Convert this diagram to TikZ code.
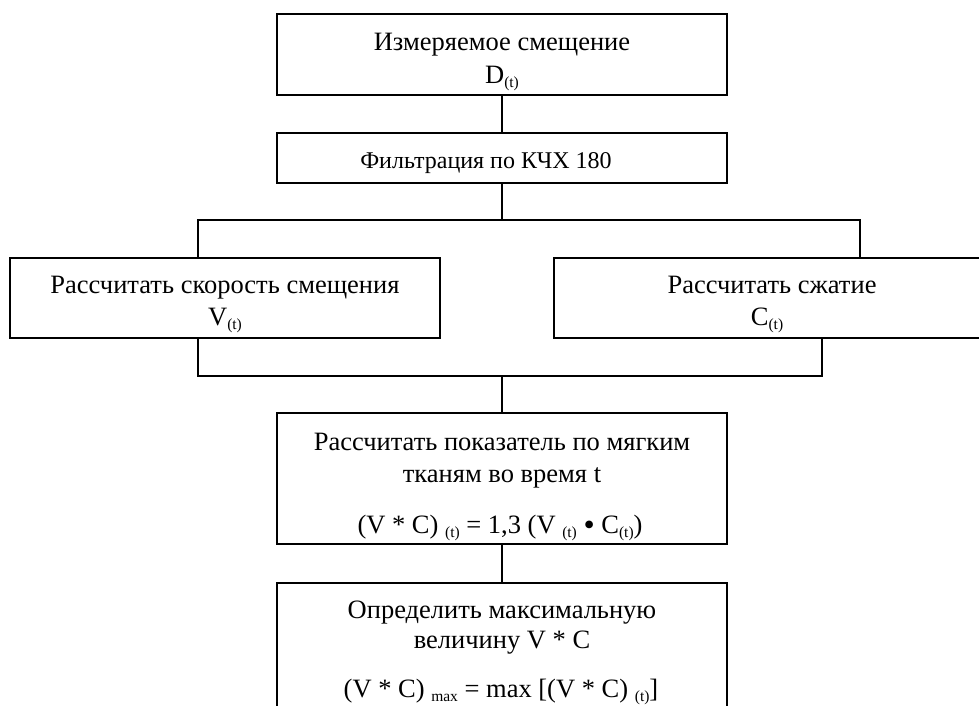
\documentclass[tikz,border=0pt]{standalone}
\usepackage{fontspec}
\setmainfont{Liberation Serif}
\newcommand\subt[1]{\raisebox{-4pt}{\fontsize{15.5}{15.5}\selectfont #1}}
\newcommand\bigdot{\raisebox{-2.5pt}{\fontsize{32}{32}\selectfont •}}
\begin{document}
\begin{tikzpicture}[x=1pt,y=-1pt,
  box/.style={draw,line width=2pt,rectangle,inner sep=0pt},
  txt/.style={anchor=base,inner sep=0pt,font=\fontsize{26.5}{30}\selectfont},
  conn/.style={line width=1.7pt}]
\clip (0,0) rectangle (979,705);
\useasboundingbox (0,0) rectangle (979,705);
% boxes
\node[box,minimum width=450pt,minimum height=81pt] (top) at (502,54.5) {};
\node[box,minimum width=450pt,minimum height=50pt] (filt) at (502,158) {};
\node[box,minimum width=430pt,minimum height=80pt] (left) at (225,298) {};
\node[box,minimum width=431pt,minimum height=80pt] (right) at (769.5,298) {};
\node[box,minimum width=450pt,minimum height=131pt] (calc) at (502,478.5) {};
\node[box,minimum width=450pt,minimum height=160pt] (max) at (502,663) {};
% texts
\node[txt] (t1) at (502,50) {Измеряемое смещение};
\node[txt] (t2) at (502,83) {D\subt{(t)}};
\node[txt,font=\fontsize{24}{28}\selectfont] (t3) at (486,168) {Фильтрация по КЧХ 180};
\node[txt] (t4) at (225,293) {Рассчитать скорость смещения};
\node[txt] (t5) at (225,325) {V\subt{(t)}};
\node[txt] (t6) at (772,293) {Рассчитать сжатие};
\node[txt] (t7) at (767,325) {C\subt{(t)}};
\node[txt] (t8) at (502,450) {Рассчитать показатель по мягким};
\node[txt] (t9) at (502,482) {тканям во время t};
\node[txt] (t10) at (500,533) {(V * C) \subt{(t)} = 1,3 (V \subt{(t)} \bigdot{} C\subt{(t)})};
\node[txt] (t11) at (502,618) {Определить максимальную};
\node[txt] (t12) at (502,648) {величину V * C};
\node[txt] (t13) at (501,697) {(V * C) \subt{max} = max [(V * C) \subt{(t)}]};
% junction points
\coordinate (j1) at (502,220);
\coordinate (jl) at (198,220);
\coordinate (jr) at (860,220);
\coordinate (kl) at (198,376);
\coordinate (kr) at (822,376);
\coordinate (km) at (502,376);
% connectors
\draw[conn] (top.south) -- (filt.north);
\draw[conn] (filt.south) -- (j1);
\draw[conn] (left.north -| jl) -- (jl) -- (jr) -- (right.north -| jr);
\draw[conn] (left.south -| kl) -- (kl) -- (kr) -- (right.south -| kr);
\draw[conn] (km) -- (calc.north);
\draw[conn] (calc.south) -- (max.north);
\end{tikzpicture}
\end{document}
